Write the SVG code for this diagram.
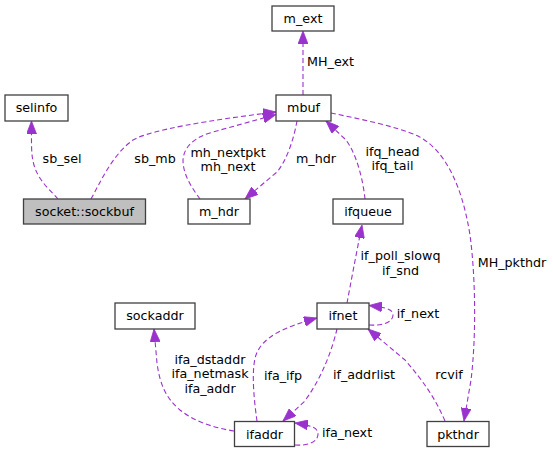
<svg xmlns="http://www.w3.org/2000/svg" width="553" height="453" viewBox="0 0 553 453">
<style>
.n rect{fill:#ffffff;stroke:#404040;stroke-width:1.3}
.n.main rect{fill:#bfbfbf}
text{font-family:"DejaVu Sans",sans-serif;font-size:12.7px;fill:#000000;text-anchor:middle}
.e path{fill:none;stroke:#9a32cd;stroke-width:1.1;stroke-dasharray:5,3;marker-end:url(#ah)}
</style>
<defs>
<marker id="ah" markerUnits="userSpaceOnUse" markerWidth="14" markerHeight="10" refX="13" refY="5" orient="auto" viewBox="0 0 14 10">
<path d="M0,0 L13,5 L0,10 z" fill="#9a32cd" stroke="#9a32cd" stroke-width="0.8"/>
</marker>
</defs>
<rect width="553" height="453" fill="#ffffff"/>
<g id="connectors" class="e">
<path d="M58,199 C50,190 38,180 34,165 C31,155 31.5,145 31.5,121"/>
<path d="M91,199 C100,183 112,155 133,140 C150,130 210,120 276,112"/>
<path d="M200,199 C192,188 183,175 183,160 C184,146 195,137 213,132 L276,114.5"/>
<path d="M297,121 C294,138 287,160 277,172 L245,199"/>
<path d="M303,95 L303,31"/>
<path d="M365,199 C363,180 357,155 346,140 L326,121"/>
<path d="M331,113 C360,119 395,126 418,136 C445,150 462,185 470,235 C476,280 476,340 471,380 L464,421"/>
<path d="M347,303 C351,282 356,255 362,225"/>
<path d="M369,325 C383,326 393,322 393,315 C393,310 388,307.5 369,305.5"/>
<path d="M257,421 C254,400 251,370 256,355 C263,336 285,327 317,318"/>
<path d="M337,329 C332,350 322,378 304,402 L283,421"/>
<path d="M295,445 C308,446 318,442 318,434 C318,428 312,425.5 295,423"/>
<path d="M234,431 C215,428 195,422 180,410 C166,398 160,385 157,363 L154,329"/>
<path d="M445,421 C436,400 425,383 405,360 L368,329"/>
</g>
<g id="labels">
<text x="330.5" y="66">MH_ext</text>
<text x="62" y="163">sb_sel</text>
<text x="155" y="163">sb_mb</text>
<text x="228" y="156.5">mh_nextpkt</text>
<text x="228" y="171">mh_next</text>
<text x="316" y="163">m_hdr</text>
<text x="392.5" y="155.5">ifq_head</text>
<text x="392.5" y="170">ifq_tail</text>
<text x="512" y="267">MH_pkthdr</text>
<text x="400.5" y="260">if_poll_slowq</text>
<text x="400.5" y="274.5">if_snd</text>
<text x="418" y="318">if_next</text>
<text x="283" y="379.5">ifa_ifp</text>
<text x="364" y="378.5">if_addrlist</text>
<text x="449" y="378.5">rcvif</text>
<text x="347" y="436.5">ifa_next</text>
<text x="210" y="363.5">ifa_dstaddr</text>
<text x="210" y="378">ifa_netmask</text>
<text x="210" y="392.5">ifa_addr</text>
</g>
<g id="node-m_ext" class="n"><rect x="272" y="6" width="62" height="25"/><text x="303" y="23">m_ext</text></g>
<g id="node-mbuf" class="n"><rect x="276" y="95" width="55" height="26"/><text x="303.5" y="112.3">mbuf</text></g>
<g id="node-selinfo" class="n"><rect x="5" y="95" width="63" height="26"/><text x="36.5" y="112.3">selinfo</text></g>
<g id="node-sockbuf" class="n main"><rect x="23.5" y="199" width="122" height="25"/><text x="84.5" y="216">socket::sockbuf</text></g>
<g id="node-m_hdr" class="n"><rect x="188" y="199" width="62" height="25"/><text x="219" y="216">m_hdr</text></g>
<g id="node-ifqueue" class="n"><rect x="333" y="199" width="70" height="25"/><text x="368" y="216">ifqueue</text></g>
<g id="node-sockaddr" class="n"><rect x="115" y="303" width="80" height="26"/><text x="155" y="320.3">sockaddr</text></g>
<g id="node-ifnet" class="n"><rect x="317" y="303" width="52" height="26"/><text x="343" y="320.3">ifnet</text></g>
<g id="node-ifaddr" class="n"><rect x="234.5" y="421.5" width="60" height="25"/><text x="264.5" y="438.5">ifaddr</text></g>
<g id="node-pkthdr" class="n"><rect x="427" y="421.5" width="62" height="25"/><text x="458" y="438.5">pkthdr</text></g>
</svg>
